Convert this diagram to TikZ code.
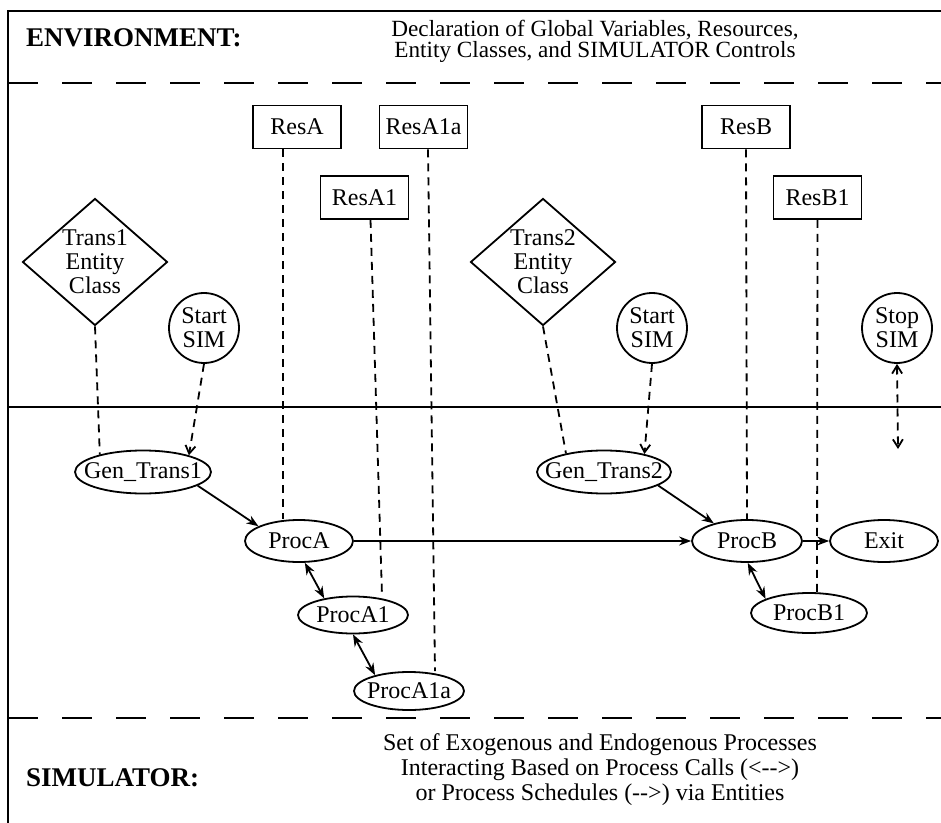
\documentclass[tikz,border=0pt]{standalone}
\usepackage{fontspec}
\setmainfont{Liberation Serif}
\usetikzlibrary{arrows.meta, positioning, shapes.geometric, calc}

\begin{document}
\begin{tikzpicture}[
        x=0.5pt, y=-0.5pt,
        resbox/.style={rectangle, draw, line width=0.9pt,
                       minimum width=44pt, minimum height=21.5pt,
                       inner sep=1pt, font=\fontsize{12}{12}\selectfont},
        proc/.style={ellipse, draw, line width=0.9pt,
                     minimum width=54pt, minimum height=20pt,
                     inner xsep=-7pt, inner ysep=0pt,
                     font=\fontsize{12}{12}\selectfont},
        entclass/.style={diamond, draw, line width=0.9pt,
                         minimum width=72.5pt, minimum height=63.5pt,
                         inner sep=-4pt, align=center,
                         font=\fontsize{12}{12}\selectfont},
        simctl/.style={circle, draw, line width=0.9pt, minimum size=35pt,
                       inner sep=0pt, align=center,
                       font=\fontsize{12}{12}\selectfont},
        uses/.style={line width=0.9pt, dash pattern=on 4pt off 3pt},
        sched/.style={line width=0.9pt, dash pattern=on 4pt off 3pt,
                      -{Straight Barb[length=4pt, width=5pt]}},
        calls/.style={line width=0.9pt,
                      {Stealth[length=6pt, width=4.5pt]}-{Stealth[length=6pt, width=4.5pt]}},
        flow/.style={line width=0.9pt, -{Stealth[length=6pt, width=4.5pt]}},
        sep/.style={line width=0.9pt, dash pattern=on 15pt off 12pt},
        label/.style={font=\fontsize{13.5}{15}\selectfont\bfseries, anchor=west},
        note/.style={align=center},
    ]
        \useasboundingbox (0,0) rectangle (941,823);

        % frame and layer separators
        \draw[line width=0.9pt] (941,11) -- (8,11) -- (8,823);
        \draw[sep] (8,83) -- (941,83);
        \draw[line width=0.9pt] (8,407) -- (941,407);
        \draw[sep] (8,718) -- (941,718);

        % ENVIRONMENT layer
        \node[label] (envlabel) at (19,38) {ENVIRONMENT:};
        \node[note, font=\fontsize{11.6}{10.5}\selectfont] (envnote) at (595,41) {Declaration of Global Variables, Resources,\\Entity Classes, and SIMULATOR Controls};

        \node[resbox] (ResA) at (297,127) {ResA};
        \node[resbox] (ResA1a) at (423.5,127) {ResA1a};
        \node[resbox] (ResA1) at (364.5,197.5) {ResA1};
        \node[resbox] (ResB) at (746,127) {ResB};
        \node[resbox] (ResB1) at (817.5,197.5) {ResB1};

        \node[entclass] (Trans1) at (95,262) {Trans1\\Entity\\Class};
        \node[entclass] (Trans2) at (543,262) {Trans2\\Entity\\Class};

        \node[simctl] (Start1) at (204,328) {Start\\SIM};
        \node[simctl] (Start2) at (652,328) {Start\\SIM};
        \node[simctl] (Stop) at (897,328) {Stop\\SIM};

        % SIMULATOR layer
        \node[proc, minimum width=68pt, minimum height=21.5pt] (GenTrans1) at (143,472) {Gen\_Trans1};
        \node[proc, minimum width=67pt, minimum height=21.5pt] (GenTrans2) at (604,472) {Gen\_Trans2};
        \node[proc, minimum height=21pt] (ProcA) at (299,541) {ProcA};
        \node[proc, minimum width=55pt, minimum height=18.5pt] (ProcA1) at (353,615) {ProcA1};
        \node[proc, minimum width=55pt, minimum height=19pt] (ProcA1a) at (409,691) {ProcA1a};
        \node[proc, minimum width=55pt, minimum height=21pt] (ProcB) at (747,541) {ProcB};
        \node[proc, minimum height=21pt] (Exit) at (884,541) {Exit};
        \node[proc, minimum width=58pt, minimum height=20pt] (ProcB1) at (809,613) {ProcB1};
        \coordinate (stopend) at (898,449);

        % resources and entity classes
        \draw[uses] ([xshift=-7pt]ResA.south) -- ([xshift=-8pt]ProcA.north);
        \draw[uses] ([xshift=3pt]ResA1.south) -- ([xshift=14.5pt]ProcA1.north);
        \draw[uses] ([xshift=2.25pt]ResA1a.south) -- ([xshift=13pt]ProcA1a.north);
        \draw[uses] (ResB.south) -- (ProcB.north);
        \draw[uses] (ResB1.south) -- ([xshift=4pt]ProcB1.north);
        \draw[uses] (Trans1.south) -- (GenTrans1.158);
        \draw[uses] (Trans2.south) -- (GenTrans2.154);

        % schedules
        \draw[sched] (Start1.south) -- (GenTrans1.20);
        \draw[sched] (Start2.south) -- (GenTrans2.24);
        \draw[sched, {Straight Barb[length=4pt, width=5pt]}-{Straight Barb[length=4pt, width=5pt]}] (Stop.south) -- (stopend);
        \draw[flow] (GenTrans1.-14) -- (ProcA.160);
        \draw[flow] (GenTrans2.-14) -- (ProcB.152);
        \draw[flow] (ProcA.east) -- (ProcB.west);
        \draw[flow, line width=0.6pt] (ProcB.east) -- (Exit.west);

        % calls
        \draw[calls] (ProcA.-75) -- (ProcA1.150);
        \draw[calls] (ProcA1.-90) -- (ProcA1a.155);
        \draw[calls] (ProcB.-88) -- (ProcB1.162);

        \node[label] (simlabel) at (19,778) {SIMULATOR:};
        \node[note, font=\fontsize{12}{12.5}\selectfont] (simnote) at (600,770) {Set of Exogenous and Endogenous Processes\\Interacting Based on Process Calls (<-{}->)\\or Process Schedules (-{}->) via Entities};
\end{tikzpicture}
\end{document}
